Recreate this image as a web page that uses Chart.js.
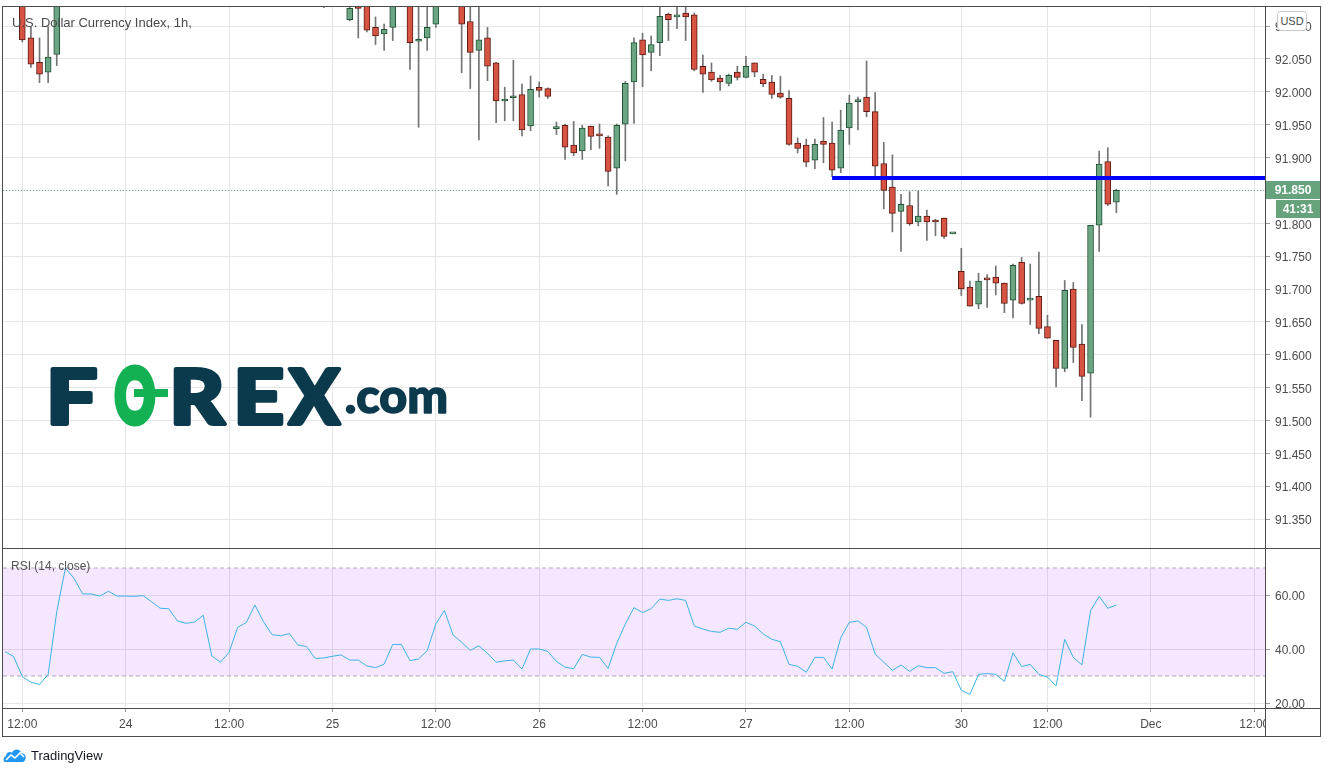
<!DOCTYPE html>
<html>
<head>
<meta charset="utf-8">
<script src="https://cdn.jsdelivr.net/npm/chart.js@4.4.0/dist/chart.umd.min.js"></script>
<style>
  html, body { margin: 0; padding: 0; background: #fff; }
  #wrap { position: relative; width: 1325px; height: 774px; overflow: hidden; font-family: 'Liberation Sans', Arial, sans-serif; }
  canvas { position: absolute; left: 0; }
  #priceCanvas { top: 0; }
  #rsiCanvas { top: 549px; }
  .ln { position: absolute; background: #4d4d4d; z-index: 3; }
  #cover { position: absolute; left: 1266px; top: 709px; width: 54px; height: 27px; background: #fff; z-index: 2; }
  #usd { position: absolute; left: 1277px; top: 11px; width: 28px; height: 18px; border: 1px solid #c9c9c9; border-radius: 4px; background: #fff; color: #4c4c4c; font-size: 11px; line-height: 18px; text-align: center; z-index: 2; }
  #footer { position: absolute; left: 3px; top: 745px; height: 20px; display: flex; align-items: center; color: #131722; font-size: 13px; }
  #footer svg { margin-right: 4px; }
</style>
</head>
<body>
<div id="wrap">
  <canvas id="priceCanvas" width="1325" height="549"></canvas>
  <canvas id="rsiCanvas" width="1325" height="225"></canvas>
  <div id="cover"></div>
  <div class="ln" style="left:2px;top:6px;width:1319px;height:1px"></div>
  <div class="ln" style="left:2px;top:6px;width:1px;height:731px"></div>
  <div class="ln" style="left:1320px;top:6px;width:1px;height:731px"></div>
  <div class="ln" style="left:2px;top:736px;width:1319px;height:1px"></div>
  <div class="ln" style="left:1265px;top:6px;width:1px;height:731px"></div>
  <div class="ln" style="left:2px;top:548px;width:1319px;height:1px"></div>
  <div class="ln" style="left:2px;top:708px;width:1319px;height:1px"></div>
  <div id="usd">USD</div>
  <div id="footer">
    <svg width="24" height="16" viewBox="0 0 24 16"><path d="M2 15 C0 15 0 10 3 9 C3 5 8 4 9 6 C10 2 17 1 18 6 C22 6 24 10 22 13 C21 15 20 15 19 15 Z" fill="#2196f3"/><path d="M3 13 L8 8 L12 11 L17 6 L21 10" stroke="#fff" stroke-width="1.6" fill="none"/></svg>
    <span>TradingView</span>
  </div>
</div>
<script>
// x axis: candle index, 1 candle = 1 hour
const xMin = -2.24;
const xMax = 144.25;
const xTickIdx = [0, 12, 24, 36, 48, 60, 72, 84, 96, 109, 119, 131, 143];
const xTickLabels = ['12:00', '24', '12:00', '25', '12:00', '26', '12:00', '27', '12:00', '30', '12:00', 'Dec', '12:00'];

// price pane
const priceMin = 91.3059;
const priceMax = 92.1291;
const priceTicks = [91.35, 91.40, 91.45, 91.50, 91.55, 91.60, 91.65, 91.70, 91.75, 91.80, 91.85, 91.90, 91.95, 92.00, 92.05, 92.10];

// candles (null = off the top of the chart)
const opens = [92.160, 92.082, 92.045, 92.030, 92.057,
  null, null, null, null, null, null, null, null, null, null,
  null, null, null, null, null, null, null, null, null, null,
  null, null, null, null, null, null, null, null, null, null,
  92.160, null, null, 92.110, 92.135, 92.145, 92.098, 92.088, 92.098, null,
  92.150, 92.077, 92.082, 92.103, null, null, 92.140, 92.107, 92.063, 92.082,
  92.044, 91.986, 91.991, 91.996, 91.948, 92.007, 92.005, 91.944, 91.949, 91.919,
  91.910, 91.948, 91.934, 91.931, 91.884, 91.951, 92.015, 92.079, 92.060, 92.075,
  92.118, 92.114, 92.120, 92.117, 92.039, 92.030, 92.021, 92.013, 92.030, 92.022,
  92.044, 92.019, 92.015, 91.998, 91.990, 91.922, 91.919, 91.896, 91.925, 91.922,
  91.884, 91.945, 91.985, 91.992, 91.970, 91.891, 91.855, 91.818, 91.827, 91.802,
  91.811, 91.805, 91.808, 91.784, 91.727, 91.703, 91.677, 91.715, 91.718, 91.709,
  91.683, 91.741, 91.683, 91.689, 91.643, 91.622, 91.579, 91.700, 91.616, 91.572,
  91.797, 91.894, 91.832];
const highs = [92.170, 92.099, 92.082, 92.099, 92.180,
  null, null, null, null, null, null, null, null, null, null,
  null, null, null, null, null, null, null, null, null, null,
  null, null, null, null, null, null, null, null, null, null,
  92.170, null, null, 92.135, 92.140, 92.150, 92.114, 92.103, 92.150, null,
  92.160, 92.140, 92.140, 92.160, null, null, 92.150, 92.140, 92.135, 92.098,
  92.045, 92.007, 92.048, 92.012, 92.024, 92.015, 92.006, 91.954, 91.951, 91.955,
  91.949, 91.948, 91.951, 91.933, 91.951, 92.016, 92.082, 92.089, 92.085, 92.140,
  92.120, 92.135, 92.135, 92.120, 92.056, 92.044, 92.025, 92.027, 92.039, 92.054,
  92.044, 92.027, 92.025, 92.024, 92.002, 91.930, 91.928, 91.928, 91.961, 91.954,
  91.972, 91.995, 91.992, 92.047, 91.999, 91.923, 91.904, 91.844, 91.848, 91.849,
  91.820, 91.806, 91.808, 91.785, 91.762, 91.712, 91.724, 91.722, 91.735, 91.709,
  91.738, 91.748, 91.738, 91.756, 91.660, 91.622, 91.713, 91.710, 91.646, 91.797,
  91.910, 91.915, 91.852];
const lows = [92.076, 92.037, 92.014, 92.014, 92.040,
  null, null, null, null, null, null, null, null, null, null,
  null, null, null, null, null, null, null, null, null, null,
  null, null, null, null, null, null, null, null, null, null,
  92.128, null, null, 92.108, 92.082, 92.091, 92.072, 92.063, 92.078, null,
  92.034, 91.946, 92.063, 92.098, null, null, 92.029, 92.005, 91.927, 92.017,
  91.953, 91.956, 91.956, 91.933, 91.941, 91.992, 91.990, 91.935, 91.897, 91.903,
  91.897, 91.912, 91.914, 91.857, 91.844, 91.895, 91.952, 92.008, 92.032, 92.055,
  92.078, 92.096, 92.078, 92.032, 91.999, 92.016, 92.002, 92.009, 92.018, 92.021,
  92.023, 92.008, 91.990, 91.990, 91.919, 91.907, 91.886, 91.883, 91.892, 91.871,
  91.877, 91.920, 91.942, 91.962, 91.868, 91.822, 91.787, 91.757, 91.797, 91.796,
  91.774, 91.781, 91.777, 91.784, 91.690, 91.674, 91.670, 91.672, 91.691, 91.664,
  91.656, 91.677, 91.646, 91.632, 91.625, 91.551, 91.574, 91.588, 91.530, 91.505,
  91.757, 91.827, 91.816];
const closes = [92.079, 92.042, 92.027, 92.053, 92.170,
  null, null, null, null, null, null, null, null, null, null,
  null, null, null, null, null, null, null, null, null, null,
  null, null, null, null, null, null, null, null, null, null,
  92.150, null, null, 92.127, 92.127, 92.094, 92.085, 92.095, 92.140, null,
  92.075, 92.079, 92.098, 92.150, null, null, 92.103, 92.060, 92.079, 92.039,
  91.986, 91.989, 91.993, 91.942, 92.004, 92.002, 91.993, 91.945, 91.916, 91.907,
  91.945, 91.932, 91.933, 91.879, 91.949, 92.013, 92.075, 92.056, 92.072, 92.115,
  92.110, 92.117, 92.114, 92.034, 92.027, 92.018, 92.015, 92.025, 92.022, 92.039,
  92.030, 92.012, 91.996, 91.992, 91.920, 91.914, 91.893, 91.920, 91.920, 91.881,
  91.942, 91.983, 91.986, 91.970, 91.887, 91.850, 91.815, 91.829, 91.799, 91.811,
  91.802, 91.802, 91.780, 91.785, 91.700, 91.674, 91.712, 91.714, 91.709, 91.678,
  91.736, 91.678, 91.684, 91.640, 91.625, 91.579, 91.698, 91.611, 91.567, 91.797,
  91.890, 91.829, 91.850];

// horizontal level drawn on the chart
const levelStart = 94;
const levelPrice = 91.869;
const barCountdown = '41:31';

// RSI pane
const rsiMin = 18.15;
const rsiMax = 77.04;
const rsiTicks = [20, 40, 60];
const rsiBand = [70, 30];
const rsiStart = -2;
const rsiValues = [39.0, 37.2, 29.8, 27.7, 26.9, 30.6, 53.8, 69.9, 66.2, 60.4,
  60.4, 59.6, 61.4, 59.6, 59.6, 59.5, 59.8, 57.5, 55.1, 54.9,
  50.4, 49.5, 50.0, 52.5, 37.4, 35.1, 38.8, 48.0, 49.8, 56.3,
  50.1, 45.3, 44.9, 45.7, 41.5, 40.9, 36.5, 36.7, 37.3, 37.8,
  35.9, 35.9, 33.7, 33.1, 34.4, 41.7, 41.7, 35.7, 36.3, 39.4,
  49.3, 54.3, 45.2, 42.5, 39.5, 41.2, 38.4, 35.1, 35.6, 35.9,
  32.6, 40.0, 40.0, 39.1, 35.4, 33.3, 32.7, 38.0, 37.0, 36.9,
  32.8, 42.1, 49.3, 55.3, 53.5, 54.9, 58.5, 58.0, 58.6, 58.0,
  48.5, 47.4, 46.5, 46.2, 47.7, 47.3, 49.9, 48.5, 45.6, 43.6,
  42.7, 34.3, 33.6, 31.4, 36.9, 36.9, 32.6, 44.1, 49.9, 50.4,
  48.0, 38.1, 35.1, 32.1, 34.1, 31.7, 33.8, 33.1, 33.1, 31.0,
  31.6, 24.7, 23.2, 30.6, 30.9, 30.6, 28.0, 38.6, 33.5, 34.3,
  30.6, 29.6, 26.3, 43.6, 36.9, 34.1, 54.2, 59.5, 55.1, 56.3];

const upFill = '#6ba583', downFill = '#d75442';
const upEdge = '#225437', downEdge = '#5b1a13';
const gridColor = '#e6e6e6';
const textColor = '#4c4c4c';
const fontFamily = "'Liberation Sans', Arial, sans-serif";

// build candle bodies and wicks
const bodyData = [], wickData = [], bodyFill = [], bodyEdge = [];
opens.forEach((o, i) => {
  if (o === null) return;
  const up = closes[i] >= o;
  bodyData.push({ x: i, y: [o, closes[i]] });
  wickData.push({ x: i, y: [lows[i], highs[i]] });
  bodyFill.push(up ? upFill : downFill);
  bodyEdge.push(up ? upEdge : downEdge);
});
const lastClose = closes[closes.length - 1];
const rsiData = rsiValues.map((v, k) => ({ x: rsiStart + k, y: v }));

// no extra label padding around the plot area
function noPad(s) {
  s.paddingTop = 0;
  s.paddingBottom = 0;
  s.paddingLeft = 0;
  s.paddingRight = 0;
}

function xAxis(showLabels) {
  return {
    type: 'linear',
    min: xMin,
    max: xMax,
    offset: false,
    border: { display: false },
    grid: { color: gridColor, offset: false, drawTicks: showLabels, tickLength: 4, tickColor: '#9a9a9a' },
    ticks: {
      display: showLabels,
      autoSkip: false,
      maxRotation: 0,
      padding: 5,
      color: textColor,
      font: { family: fontFamily, size: 12 },
      callback: (v) => xTickLabels[xTickIdx.indexOf(v)]
    },
    afterBuildTicks: (s) => { s.ticks = xTickIdx.map(v => ({ value: v })); },
    afterFit: (s) => { s.height = showLabels ? 29 : 0; noPad(s); }
  };
}

function yAxis(min, max, ticks, digits) {
  return {
    position: 'right',
    min: min,
    max: max,
    border: { display: false },
    grid: { color: gridColor, tickLength: 5, tickColor: '#9a9a9a' },
    ticks: {
      padding: 5,
      labelOffset: 2,
      color: textColor,
      font: { family: fontFamily, size: 12 },
      callback: (v) => v.toFixed(digits)
    },
    afterBuildTicks: (s) => { s.ticks = ticks.map(v => ({ value: v })); },
    afterFit: (s) => { s.width = 55; noPad(s); }
  };
}

// draws one logo letter stretched to fill [x0, x1]
function fitLetter(ctx, ch, x0, x1, base, font, color, stroke) {
  ctx.font = font;
  const m = ctx.measureText(ch);
  const ink = m.actualBoundingBoxLeft + m.actualBoundingBoxRight;
  const sx = (x1 - x0 - stroke) / ink;
  ctx.save();
  ctx.translate(x0 + stroke / 2, base - stroke / 2);
  ctx.scale(sx, 1);
  ctx.fillStyle = color;
  ctx.strokeStyle = color;
  ctx.lineJoin = 'round';
  ctx.lineWidth = stroke;
  ctx.fillText(ch, m.actualBoundingBoxLeft, 0);
  if (stroke > 0) ctx.strokeText(ch, m.actualBoundingBoxLeft, 0);
  ctx.restore();
}

// title, logo and last price labels
const priceOverlay = {
  id: 'priceOverlay',
  afterDatasetsDraw(chart) {
    const ctx = chart.ctx;
    ctx.save();
    ctx.fillStyle = '#4a4a4a';
    ctx.font = '13px ' + fontFamily;
    ctx.textBaseline = 'middle';
    ctx.textAlign = 'left';
    ctx.fillText('U.S. Dollar Currency Index, 1h,', 12, 23);

    // FOREX.com watermark
    ctx.textBaseline = 'alphabetic';
    const big = '900 76px Lato';
    const navy = '#0b3a4d';
    const green = '#13b153';
    fitLetter(ctx, 'F', 50, 97, 426, big, navy, 4);
    fitLetter(ctx, 'O', 113, 157, 426, big, green, 6);
    fitLetter(ctx, 'R', 173, 227, 426, big, navy, 4);
    fitLetter(ctx, 'E', 237, 283, 426, big, navy, 4);
    fitLetter(ctx, 'X', 286, 342, 426, big, navy, 4);
    fitLetter(ctx, '.com', 345, 447, 414, '900 47px Lato', navy, 1.5);
    ctx.fillStyle = green;
    ctx.fillRect(134, 389, 34, 8);
    ctx.restore();
  },
  afterDraw(chart) {
    const ctx = chart.ctx;
    const y = Math.round(chart.scales.y.getPixelForValue(lastClose));
    ctx.save();
    ctx.fillStyle = '#66a37d';
    ctx.fillRect(1266, y - 9, 54, 18);
    ctx.fillRect(1276, y + 10, 44, 18);
    ctx.fillStyle = '#fff';
    ctx.font = 'bold 12px ' + fontFamily;
    ctx.textAlign = 'center';
    ctx.textBaseline = 'middle';
    ctx.fillText(lastClose.toFixed(3), 1293, y + 1);
    ctx.fillText(barCountdown, 1298, y + 20);
    ctx.restore();
  }
};

new Chart(document.getElementById('priceCanvas'), {
  type: 'bar',
  data: {
    datasets: [
      {
        type: 'line',
        data: [{ x: levelStart, y: levelPrice }, { x: xMax, y: levelPrice }],
        borderColor: '#0000ff',
        borderWidth: 4,
        pointRadius: 0,
        order: 0
      },
      {
        data: bodyData,
        backgroundColor: bodyFill,
        borderColor: bodyEdge,
        borderWidth: 1,
        borderSkipped: false,
        barThickness: 6,
        minBarLength: 2,
        grouped: false,
        order: 1
      },
      {
        data: wickData,
        backgroundColor: '#737375',
        barThickness: 1,
        grouped: false,
        order: 2
      },
      {
        type: 'line',
        data: [{ x: xMin, y: lastClose }, { x: xMax, y: lastClose }],
        borderColor: '#6f9f85',
        borderWidth: 1,
        borderDash: [1, 2],
        pointRadius: 0,
        order: 3
      }
    ]
  },
  options: {
    responsive: false,
    animation: false,
    layout: { padding: { left: 3, top: 7, right: 5, bottom: 1 } },
    plugins: { legend: { display: false }, tooltip: { enabled: false } },
    scales: {
      x: xAxis(false),
      y: yAxis(priceMin, priceMax, priceTicks, 3)
    }
  },
  plugins: [priceOverlay]
});

const rsiOverlay = {
  id: 'rsiOverlay',
  afterDraw(chart) {
    const ctx = chart.ctx;
    ctx.save();
    ctx.fillStyle = '#555';
    ctx.font = '12px ' + fontFamily;
    ctx.textBaseline = 'middle';
    ctx.fillText('RSI (14, close)', 11, 18);
    ctx.restore();
  }
};

new Chart(document.getElementById('rsiCanvas'), {
  type: 'line',
  data: {
    datasets: [
      {
        data: rsiData,
        borderColor: '#3db4e6',
        borderWidth: 1,
        pointRadius: 0,
        tension: 0,
        fill: false,
        order: 0
      },
      {
        data: [{ x: xMin, y: rsiBand[0] }, { x: xMax, y: rsiBand[0] }],
        borderColor: '#b5abbd',
        borderWidth: 1,
        borderDash: [4, 3],
        pointRadius: 0,
        fill: '+1',
        backgroundColor: 'rgba(153, 21, 255, 0.1)',
        order: 1
      },
      {
        data: [{ x: xMin, y: rsiBand[1] }, { x: xMax, y: rsiBand[1] }],
        borderColor: '#b5abbd',
        borderWidth: 1,
        borderDash: [4, 3],
        pointRadius: 0,
        fill: false,
        order: 2
      }
    ]
  },
  options: {
    responsive: false,
    animation: false,
    layout: { padding: { left: 3, top: 0, right: 5, bottom: 37 } },
    plugins: { legend: { display: false }, tooltip: { enabled: false } },
    scales: {
      x: xAxis(true),
      y: yAxis(rsiMin, rsiMax, rsiTicks, 2)
    }
  },
  plugins: [rsiOverlay]
});
</script>
</body>
</html>
